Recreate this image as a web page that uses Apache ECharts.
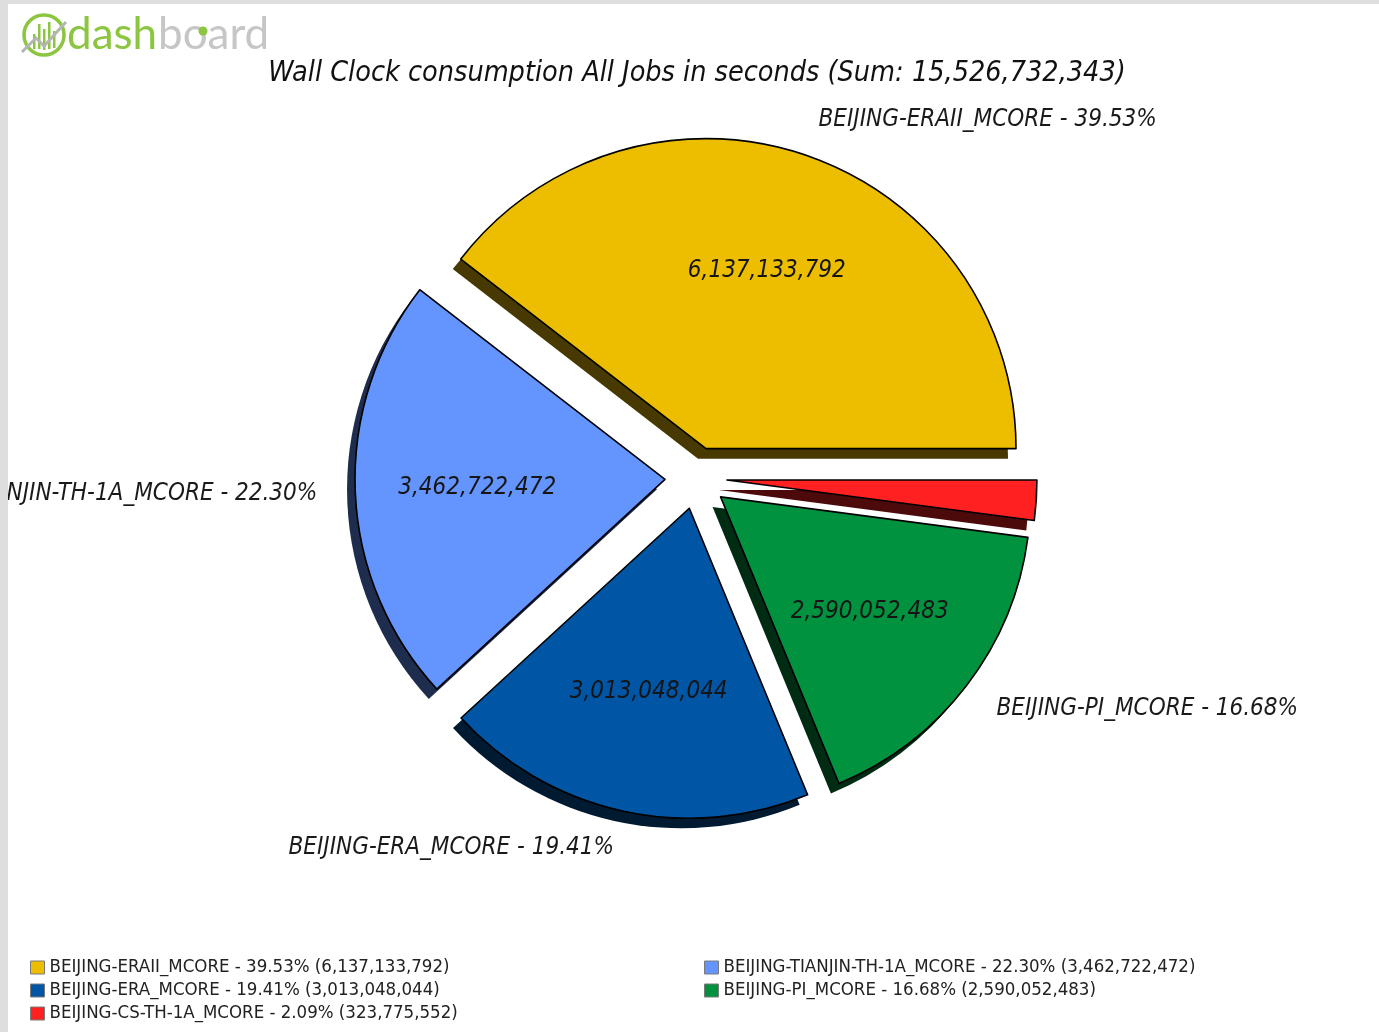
<!DOCTYPE html>
<html>
<head>
<meta charset="utf-8">
<title>Wall Clock consumption All Jobs</title>
<script src="https://cdn.jsdelivr.net/npm/echarts@6/dist/echarts.min.js"></script>
<style>
  html, body { margin: 0; padding: 0; width: 1379px; height: 1032px; overflow: hidden; background: #dedede; }
  #frame { position: absolute; left: 8px; top: 4px; width: 1371px; height: 1028px; background: #fff; overflow: hidden; }
  /* the canvas reaches past the frame's left edge so long left-hand labels are cut by the frame, not shortened */
  #chart { position: absolute; left: -200px; top: 0; width: 1571px; height: 1028px; }
</style>
</head>
<body>
<div id="frame"><div id="chart"></div></div>
<script>
// Wall clock consumption per site (seconds)
const sites = [
  'BEIJING-ERAII_MCORE',
  'BEIJING-TIANJIN-TH-1A_MCORE',
  'BEIJING-ERA_MCORE',
  'BEIJING-PI_MCORE',
  'BEIJING-CS-TH-1A_MCORE'
];
const wallClock = [6137133792, 3462722472, 3013048044, 2590052483, 323775552];
const sliceColors = ['#EDBE00', '#6495FF', '#0055A5', '#00923F', '#FF2121'];
// legend columns (indices into sites)
const legendLeftCol = [0, 2, 4];
const legendRightCol = [1, 3];

const total = wallClock.reduce((a, b) => a + b, 0);
const fmt = v => v.toLocaleString('en-US');
const pct = v => (v / total * 100).toFixed(2) + '%';
const valueOf = name => wallClock[sites.indexOf(name)];

// shift from page pixels to canvas pixels
const OX = 192, OY = -4;
const CX = 696 + OX, CY = 478 + OY;
const R = 310, EXPLODE = 31;

const condensed = "'DejaVu Sans Condensed', 'DejaVu Sans', sans-serif";

function darken(hex, k) {
  const n = parseInt(hex.slice(1), 16);
  const r = Math.round(((n >> 16) & 255) * k);
  const g = Math.round(((n >> 8) & 255) * k);
  const b = Math.round((n & 255) * k);
  return 'rgb(' + r + ',' + g + ',' + b + ')';
}

const pieBase = {
  type: 'pie',
  startAngle: 0,
  clockwise: false,
  selectedMode: 'multiple',
  selectedOffset: EXPLODE,
  animation: false,
  emphasis: { disabled: true },
  minShowLabelAngle: 10
};

const chart = echarts.init(document.getElementById('chart'), null, { renderer: 'canvas' });

const legendCommon = {
  orient: 'vertical',
  top: 954,
  padding: 0,
  icon: 'rect',
  itemWidth: 14,
  itemHeight: 13,
  itemGap: 4,
  selectedMode: false,
  itemStyle: { borderColor: '#7a7a7a', borderWidth: 1 },
  textStyle: { fontSize: 18.5, lineHeight: 18, fontFamily: condensed, color: '#222' },
  formatter: name => name + ' - ' + pct(valueOf(name)) + ' (' + fmt(valueOf(name)) + ')'
};

const logoGreen = '#8CC540';

chart.setOption({
  animation: false,
  backgroundColor: 'transparent',
  legend: [
    Object.assign({}, legendCommon, { left: 30 + OX, data: legendLeftCol.map(i => sites[i]) }),
    Object.assign({}, legendCommon, { left: 704 + OX, data: legendRightCol.map(i => sites[i]) })
  ],
  graphic: [
    {
      type: 'group',
      x: OX,
      y: OY,
      children: [
        // dashboard logo
        { type: 'circle', shape: { cx: 44, cy: 35, r: 20 }, style: { fill: 'none', stroke: logoGreen, lineWidth: 3.5 } },
        { type: 'rect', shape: { x: 33, y: 34, width: 2.5, height: 15 }, style: { fill: logoGreen } },
        { type: 'rect', shape: { x: 38, y: 24, width: 2.5, height: 25 }, style: { fill: logoGreen } },
        { type: 'rect', shape: { x: 43, y: 29, width: 2.5, height: 21 }, style: { fill: logoGreen } },
        { type: 'rect', shape: { x: 48, y: 22, width: 2.5, height: 27 }, style: { fill: logoGreen } },
        { type: 'rect', shape: { x: 53, y: 31, width: 2.5, height: 17 }, style: { fill: logoGreen } },
        { type: 'polyline', shape: { points: [[22, 52], [36, 38], [44, 46], [66, 22]] }, style: { stroke: '#b5b5b5', lineWidth: 3, fill: 'none' } },
        { type: 'text', x: 67, y: 13, style: { text: 'dash', fill: logoGreen, fontSize: 44, fontFamily: 'Lato, sans-serif', verticalAlign: 'top', align: 'left' } },
        { type: 'text', x: 158, y: 13, style: { text: 'board', fill: '#c6c6c6', fontSize: 44, fontFamily: 'Lato, sans-serif', verticalAlign: 'top', align: 'left' } },
        { type: 'circle', shape: { cx: 203, cy: 31, r: 4.5 }, style: { fill: logoGreen } },
        // chart title
        { type: 'text', x: 697, y: 74, style: {
            text: 'Wall Clock consumption All Jobs in seconds (Sum: ' + fmt(total) + ')',
            fill: '#111', fontSize: 28.5, fontStyle: 'italic', fontFamily: condensed,
            align: 'center', verticalAlign: 'middle' } }
      ]
    }
  ],
  series: [
    // slices with outer name labels
    Object.assign({}, pieBase, {
      name: 'slices',
      center: [CX, CY],
      radius: [0, R],
      z: 3,
      avoidLabelOverlap: true,
      itemStyle: { borderColor: '#000', borderWidth: 1.6 },
      select: { itemStyle: { borderColor: '#000', borderWidth: 1.6 } },
      label: {
        show: true, position: 'outside', distanceToLabelLine: 0,
        fontSize: 24, fontStyle: 'italic', fontFamily: condensed, color: '#1a1a1a',
        formatter: p => p.name + ' - ' + pct(p.value)
      },
      labelLine: { show: false, length: 38, length2: 0 },
      data: sites.map((n, i) => ({ name: n, value: wallClock[i], selected: true, itemStyle: { color: sliceColors[i] } }))
    }),
    // drop shadows under the slices
    Object.assign({}, pieBase, {
      name: 'shadow',
      center: [CX - 8, CY + 10],
      radius: [0, R],
      z: 1,
      silent: true,
      label: { show: false },
      labelLine: { show: false },
      itemStyle: { borderWidth: 0 },
      select: { itemStyle: { borderWidth: 0 } },
      data: sites.map((n, i) => ({ name: n, value: wallClock[i], selected: true, itemStyle: { color: darken(sliceColors[i], 0.3) } }))
    }),
    // value labels inside each slice
    Object.assign({}, pieBase, {
      name: 'values',
      center: [CX, CY],
      radius: [0, 370],
      z: 4,
      silent: true,
      itemStyle: { color: 'rgba(0,0,0,0)', borderWidth: 0 },
      select: { itemStyle: { color: 'rgba(0,0,0,0)', borderWidth: 0 } },
      label: {
        show: true, position: 'inside',
        fontSize: 24, fontStyle: 'italic', fontFamily: condensed, color: '#151515',
        formatter: p => fmt(p.value)
      },
      labelLine: { show: false },
      data: sites.map((n, i) => ({ name: n, value: wallClock[i], selected: true }))
    })
  ]
});
</script>
</body>
</html>
